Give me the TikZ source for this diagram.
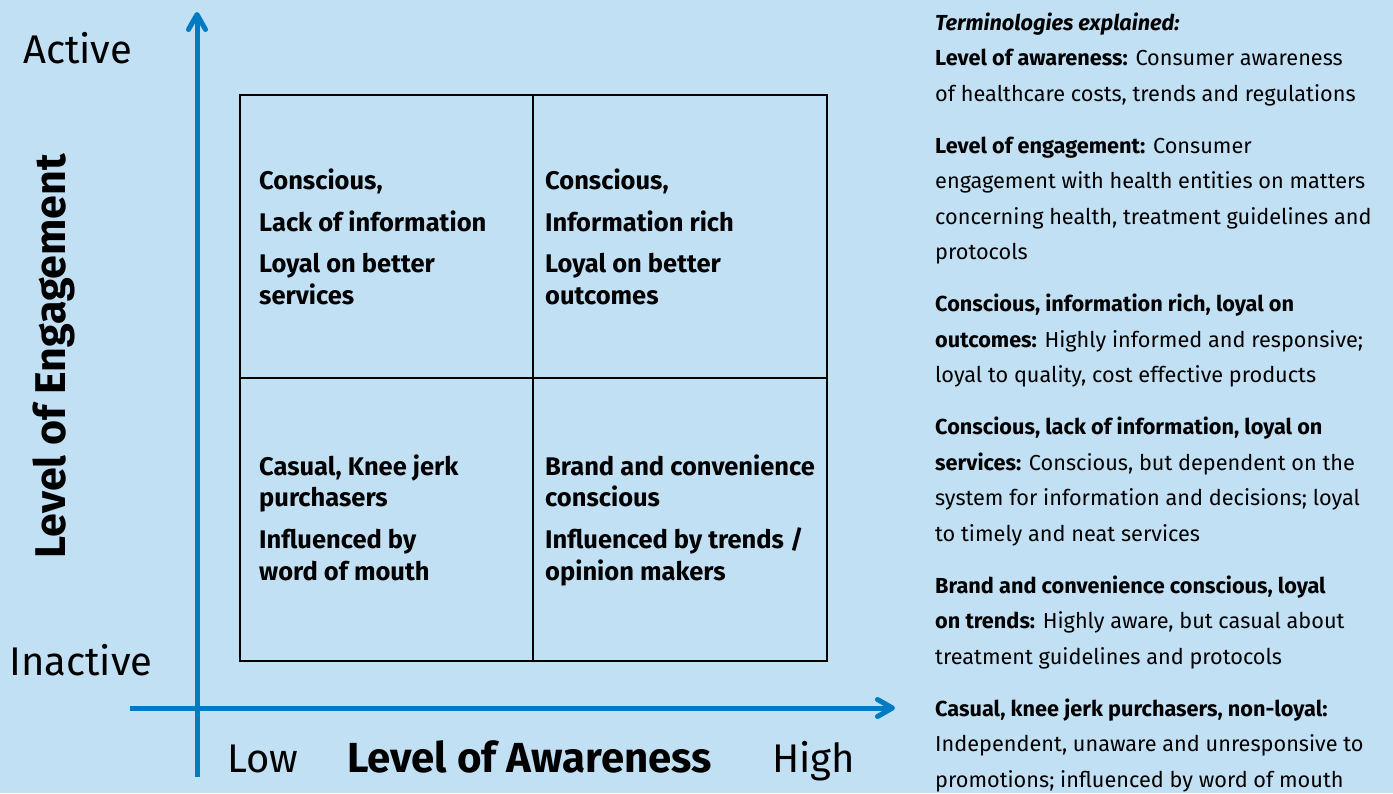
\documentclass[tikz,border=0pt]{standalone}
\usepackage{fontspec}
\setmainfont{Fira Sans}
\usetikzlibrary{arrows.meta}
\definecolor{bg}{RGB}{194,224,244}
\definecolor{axisblue}{RGB}{0,122,194}
\tikzset{
  axisline/.style={draw=axisblue,line width=5pt,-{Straight Barb[length=15pt,width=17pt,round]}},
  gridline/.style={draw=black,line width=2pt},
  bigtxt/.style={inner sep=0pt,anchor=base west,font=\fontsize{40}{46}\selectfont},
  celltxt/.style={inner sep=0pt,anchor=base west,align=left,font=\fontsize{25.5}{31.5}\selectfont\bfseries},
  notetxt/.style={inner sep=0pt,anchor=base west,align=left,font=\fontsize{21.7}{35.5}\selectfont}
}
\begin{document}
\begin{tikzpicture}[x=1pt,y=-1pt]
\fill[bg] (0,0) rectangle (1393,793);
\useasboundingbox (0,0) rectangle (1393,793);
% grid
\draw[gridline] (240,95) rectangle (827,661);
\coordinate (vt) at (533,95); \coordinate (vb) at (533,661);
\coordinate (hl) at (240,378); \coordinate (hr) at (827,378);
\draw[gridline] (vt) -- (vb);
\draw[gridline] (hl) -- (hr);
% axes
\coordinate (yb) at (197,777); \coordinate (yt) at (197,12);
\coordinate (xl) at (130,708); \coordinate (xr) at (895,708);
\draw[axisline] (yb) -- (yt);
\draw[axisline] (xl) -- (xr);
% axis labels
\node[bigtxt] (active) at (23,63) {Active};
\node[bigtxt] (inactive) at (9,675) {Inactive};
\node[bigtxt] (low) at (227,772) {Low};
\node[bigtxt,font=\fontsize{42}{46}\selectfont\bfseries] (awareness) at (347,772) {Level of Awareness};
\node[bigtxt] (high) at (772,772) {High};
\node[inner sep=0pt,anchor=base,rotate=90,font=\fontsize{43}{46}\selectfont\bfseries] (engagement) at (65,356) {Level of Engagement};
% cells (anchored at the baseline of the last line)
\node[celltxt] (tl) at (259,304) {Conscious,\\[10.5pt]Lack of information\\[9.5pt]Loyal on better\\services};
\node[celltxt] (tr) at (545,304) {Conscious,\\[10.5pt]Information rich\\[9.5pt]Loyal on better\\outcomes};
\node[celltxt] (bl) at (259,580) {Casual, Knee jerk\\purchasers\\[10.5pt]Influenced by\\word of mouth};
\node[celltxt] (br) at (545,580) {Brand and convenience\\conscious\\[10.5pt]Influenced by trends /\\opinion makers};
% notes (anchored at the baseline of the last line)
\node[notetxt] (notes) at (935,787) {\textbf{\itshape Terminologies explained:}\\
\textbf{Level of awareness:} Consumer awareness\\
of healthcare costs, trends and regulations\\[16.5pt]
\textbf{Level of engagement:} Consumer\\
engagement with health entities on matters\\
concerning health, treatment guidelines and\\
protocols\\[16.5pt]
\textbf{Conscious, information rich, loyal on}\\
\textbf{outcomes:} Highly informed and responsive;\\
loyal to quality, cost effective products\\[16.5pt]
\textbf{Conscious, lack of information, loyal on}\\
\textbf{services:} Conscious, but dependent on the\\
system for information and decisions; loyal\\
to timely and neat services\\[16.5pt]
\textbf{Brand and convenience conscious, loyal}\\
\textbf{on trends:} Highly aware, but casual about\\
treatment guidelines and protocols\\[16.5pt]
\textbf{Casual, knee jerk purchasers, non-loyal:}\\
Independent, unaware and unresponsive to\\
promotions; influenced by word of mouth};
\end{tikzpicture}
\end{document}
